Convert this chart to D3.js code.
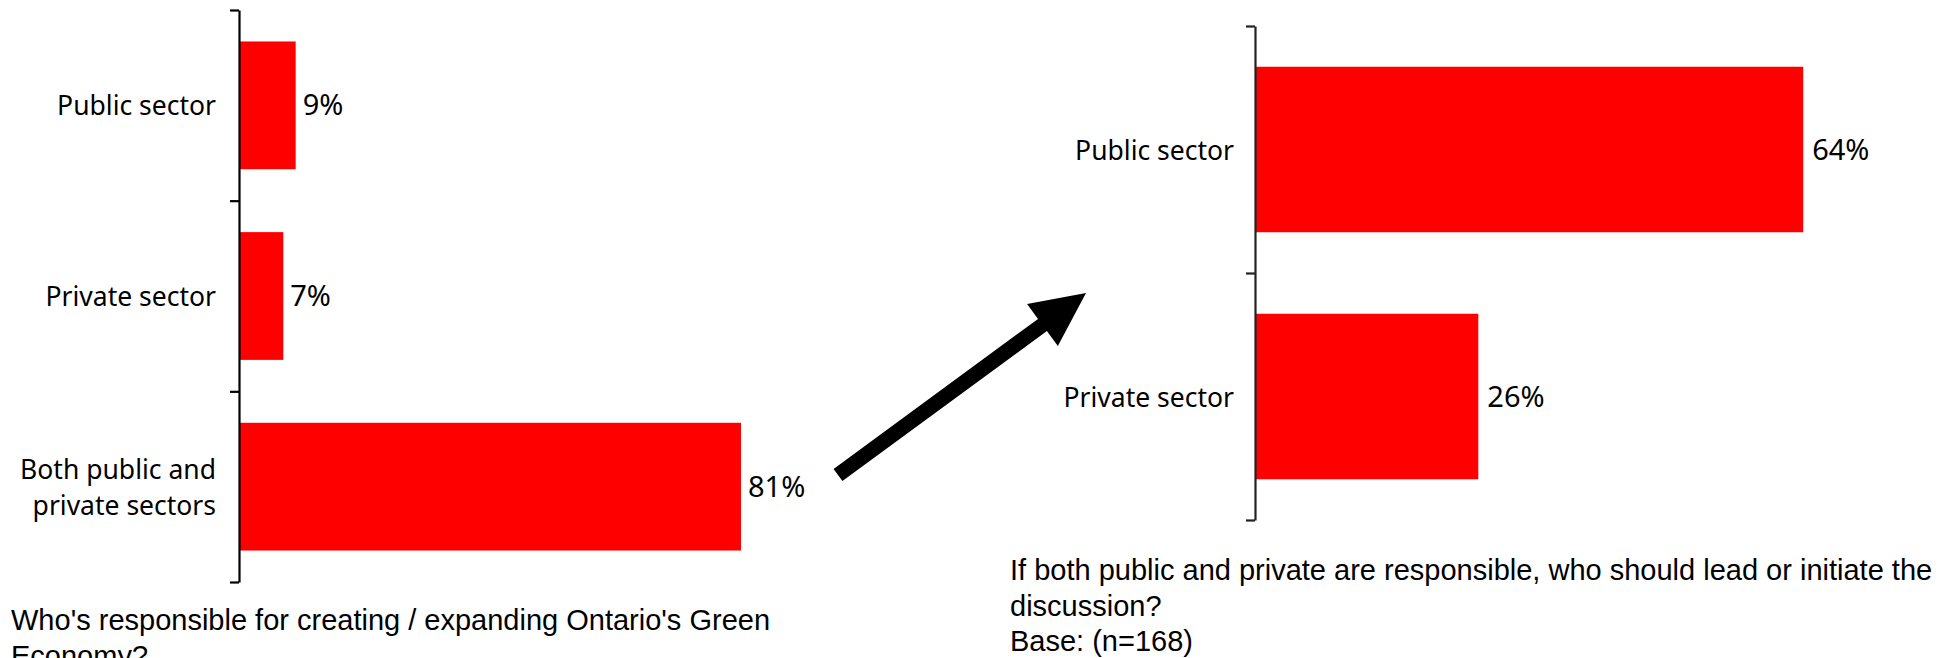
<!DOCTYPE html>
<html lang="en">
<head>
  <meta charset="utf-8" />
  <title>Green economy responsibility</title>
  <script src="https://cdn.jsdelivr.net/npm/d3@7"></script>
  <style type="text/css">
    html, body { margin: 0; padding: 0; background: #fff; }
    svg { display: block; }
    .cat { font-family: "Noto Sans", sans-serif; font-size: 26.5px; fill: #000; }
    .val { font-family: "Noto Sans", sans-serif; font-size: 29px; fill: #000; }
    .caption { font-family: "Liberation Sans", Arial, sans-serif; font-size: 29px; fill: #000; }
  </style>
</head>
<body>
  <div id="graphic"></div>

  <script>
    // left chart: who is responsible
    var leftCategories = ["Public sector", "Private sector", "Both public and\nprivate sectors"];
    var leftValues = [9, 7, 81];
    var leftCaption = ["Who's responsible for creating / expanding Ontario's Green", "Economy?"];

    // right chart: who should lead, if both
    var rightCategories = ["Public sector", "Private sector"];
    var rightValues = [64, 26];
    var rightCaption = ["If both public and private are responsible, who should lead or initiate the", "discussion?", "Base: (n=168)"];

    var width = 1952, height = 658;
    var barColour = "#ff0000";

    var svg = d3.select("#graphic").append("svg")
      .attr("width", width)
      .attr("height", height);

    function drawBars(opts) {
      var n = opts.categories.length;
      var g = svg.append("g");

      var y = d3.scaleBand()
        .domain(opts.categories)
        .range([opts.top, opts.bottom])
        .paddingInner(0.33)
        .paddingOuter(0.165);

      var x = d3.scaleLinear()
        .domain([0, 100])
        .range([opts.left, opts.left + opts.pxPer100]);

      // ticks sit between categories, excel style
      var edges = d3.scaleLinear().domain([0, n]).range([opts.top, opts.bottom]);

      var data = opts.categories.map(function(c, i) { return {cat: c, value: opts.values[i]}; });

      g.selectAll("rect")
        .data(data)
        .enter()
        .append("rect")
          .attr("x", x(0) + 1)
          .attr("y", function(d) { return y(d.cat); })
          .attr("width", function(d) { return x(d.value) - x(0); })
          .attr("height", y.bandwidth())
          .attr("fill", barColour);

      var axis = g.append("g")
        .attr("transform", "translate(" + x(0) + ",0)")
        .call(d3.axisLeft(edges)
          .tickValues(d3.range(0, n + 1))
          .tickSize(9)
          .tickSizeOuter(0)
          .tickFormat(""));
      axis.selectAll("path, line")
        .attr("stroke", opts.axisColour)
        .attr("stroke-width", 2.2);

      // category labels, split on newline
      g.selectAll("text.cat")
        .data(data)
        .enter()
        .append("text")
          .attr("class", "cat")
          .attr("text-anchor", "end")
          .each(function(d) {
            var lines = d.cat.split("\n");
            var cy = y(d.cat) + y.bandwidth() / 2;
            var t = d3.select(this);
            lines.forEach(function(l, i) {
              t.append("tspan")
                .attr("x", x(0) - opts.labelGap)
                .attr("y", cy + (i - (lines.length - 1) / 2) * 36 + 10)
                .text(l);
            });
          });

      g.selectAll("text.val")
        .data(data)
        .enter()
        .append("text")
          .attr("class", "val")
          .attr("x", function(d) { return x(d.value) + opts.valueGap; })
          .attr("y", function(d) { return y(d.cat) + y.bandwidth() / 2 + 10; })
          .text(function(d) { return d.value + "%"; });

      g.append("text")
        .attr("class", "caption")
        .selectAll("tspan")
        .data(opts.caption)
        .enter()
        .append("tspan")
          .attr("x", opts.captionX)
          .attr("y", function(d, i) { return opts.captionY + i * 35.5; })
          .text(function(d) { return d; });
    }

    drawBars({
      categories: leftCategories, values: leftValues, caption: leftCaption,
      top: 10, bottom: 582, left: 239, pxPer100: 618.5,
      labelGap: 23, valueGap: 8, axisColour: "#000",
      captionX: 11, captionY: 630
    });

    drawBars({
      categories: rightCategories, values: rightValues, caption: rightCaption,
      top: 26, bottom: 520, left: 1255, pxPer100: 855,
      labelGap: 21, valueGap: 10, axisColour: "#222",
      captionX: 1010, captionY: 580
    });

    // block arrow linking the two charts
    var arrowFrom = [838, 475], arrowTo = [1086, 293];
    var shaftW = 15, headLen = 54, headW = 52;
    var dx = arrowTo[0] - arrowFrom[0], dy = arrowTo[1] - arrowFrom[1];
    var len = Math.sqrt(dx * dx + dy * dy);
    var ux = dx / len, uy = dy / len, px = -uy, py = ux;
    var bx = arrowTo[0] - ux * headLen, by = arrowTo[1] - uy * headLen;
    var pts = [
      [arrowFrom[0] + px * shaftW / 2, arrowFrom[1] + py * shaftW / 2],
      [bx + px * shaftW / 2, by + py * shaftW / 2],
      [bx + px * headW / 2, by + py * headW / 2],
      arrowTo,
      [bx - px * headW / 2, by - py * headW / 2],
      [bx - px * shaftW / 2, by - py * shaftW / 2],
      [arrowFrom[0] - px * shaftW / 2, arrowFrom[1] - py * shaftW / 2]
    ];
    svg.append("path")
      .attr("d", d3.line()(pts) + "Z")
      .attr("fill", "#000");
  </script>
</body>
</html>
